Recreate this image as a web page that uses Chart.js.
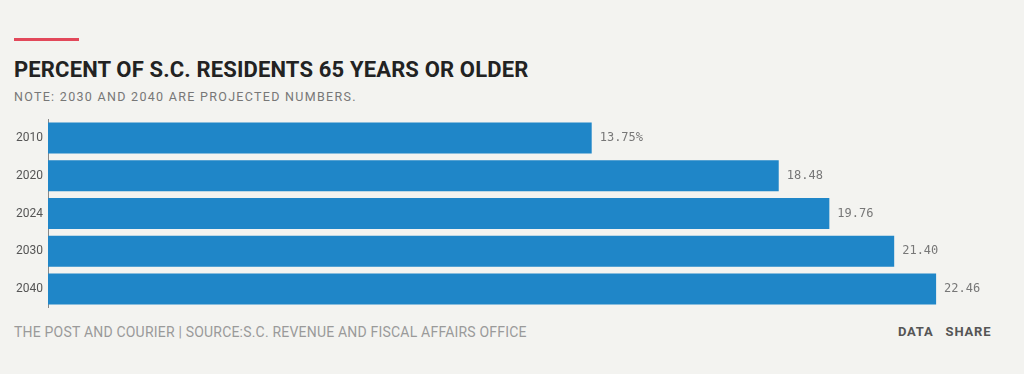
<!DOCTYPE html>
<html>
<head>
<meta charset="utf-8">
<script src="https://cdn.jsdelivr.net/npm/chart.js@4.4.0/dist/chart.umd.min.js"></script>
<style>
  body { margin: 0; background: #f3f3f0; width: 1024px; height: 374px; overflow: hidden; position: relative; font-family: Roboto, "Noto Sans", sans-serif; }
  .bar-accent { position: absolute; left: 14px; top: 38px; width: 65px; height: 3px; background: #e2485a; }
  h1 { position: absolute; left: 14px; top: 57px; margin: 0; font-size: 22px; font-weight: 700; color: #222; letter-spacing: 0.15px; }
  .note { position: absolute; left: 14px; top: 89px; font-size: 12.5px; color: #777; letter-spacing: 1.3px; }
  #chart { position: absolute; left: 0; top: 107px; }
  .footer { position: absolute; left: 14px; top: 324px; font-size: 14px; color: #9a9a9a; letter-spacing: 0.2px; }
  .links { position: absolute; left: 898px; top: 324px; font-size: 13px; font-weight: 700; color: #555; letter-spacing: 0.8px; }
  .links span { margin-right: 12px; }
</style>
</head>
<body>
<div class="bar-accent"></div>
<h1>PERCENT OF S.C. RESIDENTS 65 YEARS OR OLDER</h1>
<div class="note">NOTE: 2030 AND 2040 ARE PROJECTED NUMBERS.</div>
<canvas id="chart" width="1024" height="213"></canvas>
<div class="footer">THE POST AND COURIER | SOURCE:S.C. REVENUE AND FISCAL AFFAIRS OFFICE</div>
<div class="links"><span>DATA</span>SHARE</div>

<script>
// Donnees
const years = ['2010', '2020', '2024', '2030', '2040'];
const percent65 = [13.75, 18.48, 19.76, 21.40, 22.46];
const valueLabels = ['13.75%', '18.48', '19.76', '21.40', '22.46'];

// Etiquettes au bout des barres
const endLabels = {
    id: 'endLabels',
    afterDatasetsDraw(chart) {
        const ctx = chart.ctx;
        const meta = chart.getDatasetMeta(0);
        ctx.save();
        ctx.font = '12px "DejaVu Sans Mono", monospace';
        ctx.fillStyle = '#777';
        ctx.textBaseline = 'middle';
        ctx.textAlign = 'left';
        meta.data.forEach((bar, i) => {
            ctx.fillText(valueLabels[i], bar.x + 8, bar.y);
        });
        ctx.restore();
    }
};

const ctx = document.getElementById('chart').getContext('2d');
new Chart(ctx, {
    type: 'bar',
    data: {
        labels: years,
        datasets: [{
            data: percent65,
            backgroundColor: '#1f86c8',
            borderWidth: 0,
            categoryPercentage: 1,
            barPercentage: 0.82
        }]
    },
    options: {
        indexAxis: 'y',
        responsive: false,
        animation: false,
        layout: { padding: { top: 2.5, bottom: 1.5, right: 27, left: 0 } },
        plugins: { legend: { display: false }, tooltip: { enabled: false } },
        scales: {
            x: { display: false, min: 0, max: 24 },
            y: {
                afterFit(scale) { scale.width = 48; },
                grid: { display: false, drawTicks: false, tickLength: 0 },
                border: { display: true, color: '#888', width: 1 },
                ticks: { color: '#555', padding: 5, font: { family: 'Roboto', size: 12 } }
            }
        }
    },
    plugins: [endLabels]
});
</script>
</body>
</html>
